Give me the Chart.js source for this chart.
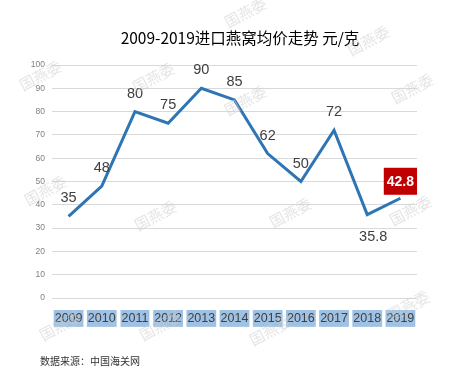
<!DOCTYPE html>
<html>
<head>
<meta charset="utf-8">
<script src="https://cdn.jsdelivr.net/npm/chart.js@4.4.0/dist/chart.umd.min.js"></script>
<style>
html,body{margin:0;padding:0;background:#fff;}
#wrap{position:relative;width:457px;height:372px;overflow:hidden;}
#title{position:absolute;left:0;width:480px;top:27px;text-align:center;font-family:"Noto Sans CJK SC","Noto Sans",sans-serif;font-size:15.5px;color:#000;line-height:20px;white-space:nowrap;}
#source{position:absolute;left:40px;top:354px;font-family:"Noto Sans CJK SC",sans-serif;font-size:10px;color:#333;line-height:14px;white-space:nowrap;}
.wm{position:absolute;font-family:"Noto Sans CJK SC",sans-serif;font-size:15px;color:rgba(205,205,205,0.55);transform:translate(-50%,-50%) rotate(-28deg);white-space:nowrap;pointer-events:none;}
canvas{position:absolute;left:0;top:0;}
</style>
</head>
<body>
<div id="wrap">
<canvas id="c" width="457" height="372"></canvas>
<div id="title">2009-2019进口燕窝均价走势 元/克</div>
<div id="source">数据来源：中国海关网</div>
</div>
<script>
const years = ['2009','2010','2011','2012','2013','2014','2015','2016','2017','2018','2019'];
const prices = [35, 48, 80, 75, 90, 85, 62, 50, 72, 35.8, 42.8];
const yTicks = [0,10,20,30,40,50,60,70,80,90,100];
const watermarkText = '国燕委';

const valueLabels = {
  id: 'valueLabels',
  afterDatasetsDraw(chart) {
    const ctx = chart.ctx;
    const meta = chart.getDatasetMeta(0);
    const last = prices.length - 1;
    meta.data.forEach((pt, i) => {
      const txt = String(prices[i]);
      ctx.save();
      ctx.textAlign = 'center';
      ctx.textBaseline = 'middle';
      if (i === last) {
        ctx.font = 'bold 14px "Liberation Sans", Arial, sans-serif';
        const w = ctx.measureText(txt).width + 6;
        const h = 27;
        const cy = pt.y - 17;
        ctx.fillStyle = '#C00000';
        ctx.fillRect(pt.x - w / 2, cy - h / 2, w, h);
        ctx.fillStyle = '#ffffff';
        ctx.fillText(txt, pt.x, cy + 0.5);
      } else {
        ctx.font = '14.5px "Liberation Sans", Arial, sans-serif';
        ctx.fillStyle = '#404040';
        const below = i === last - 1;
        ctx.fillText(txt, pt.x + (below ? 6 : 0), below ? pt.y + 22 : pt.y - 18);
      }
      ctx.restore();
    });
  }
};

new Chart(document.getElementById('c'), {
  type: 'line',
  data: {
    labels: years,
    datasets: [{
      data: prices,
      borderColor: '#2E75B6',
      borderWidth: 3,
      pointRadius: 0,
      tension: 0,
      fill: false
    }]
  },
  options: {
    responsive: false,
    animation: false,
    layout: { padding: { left: 0, right: 40, top: 65, bottom: 0 } },
    plugins: { legend: { display: false }, tooltip: { enabled: false } },
    scales: {
      x: {
        offset: true,
        grid: { display: false, drawTicks: false },
        border: { display: false },
        ticks: {
          color: '#404040',
          font: { family: '"Liberation Sans", Arial, sans-serif', size: 12.5, lineHeight: 1.15 },
          padding: 13.5,
          maxRotation: 0,
          autoSkip: false,
          showLabelBackdrop: true,
          backdropColor: '#9fc2e4',
          backdropPadding: { left: 1, right: 1, top: 1.5, bottom: 1 }
        },
        afterFit(s) { s.height = 74; }
      },
      y: {
        min: 0, max: 100,
        afterBuildTicks(s) { s.ticks = yTicks.map(v => ({ value: v })); },
        grid: { color: '#d9d9d9', lineWidth: 1, drawTicks: false },
        border: { display: false },
        ticks: {
          color: '#808080',
          font: { family: '"Liberation Sans", Arial, sans-serif', size: 8.5 },
          padding: 7
        },
        afterFit(s) { s.width = 52; }
      }
    }
  },
  plugins: [valueLabels]
});

const wmPos = [[245,12],[368,40],[40,75],[153,77],[245,100],[412,88],[45,190],[155,215],[290,212],[410,210],[60,325],[160,325],[270,330],[408,305]];
const wrap = document.getElementById('wrap');
wmPos.forEach(([x, y]) => {
  const d = document.createElement('div');
  d.className = 'wm';
  d.textContent = watermarkText;
  d.style.left = x + 'px';
  d.style.top = y + 'px';
  wrap.appendChild(d);
});
</script>
</body>
</html>
